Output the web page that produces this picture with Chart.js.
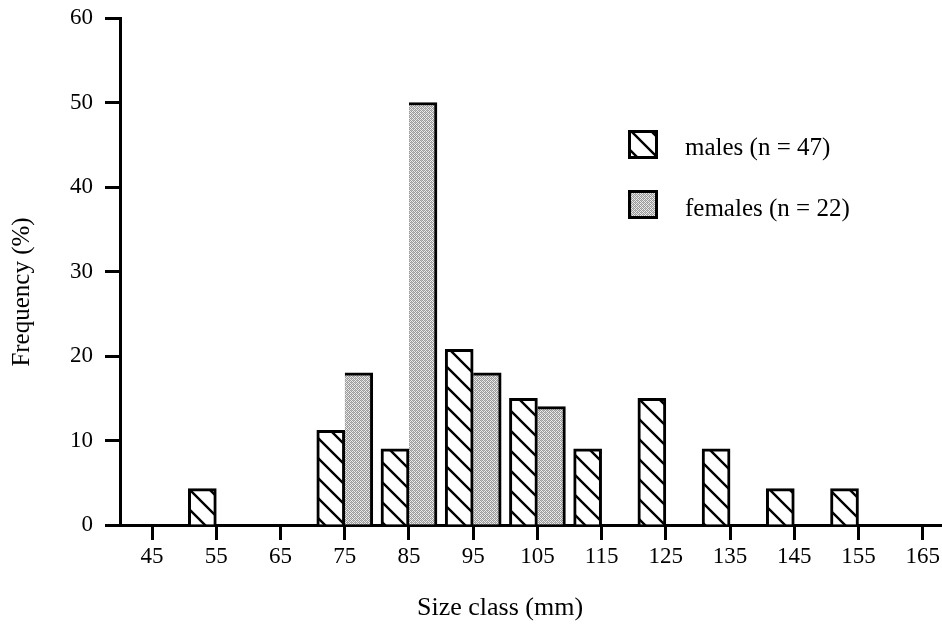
<!DOCTYPE html>
<html>
<head>
<meta charset="utf-8">
<script src="https://cdn.jsdelivr.net/npm/chart.js@4.4.1/dist/chart.umd.min.js"></script>
<style>
  html, body { margin: 0; padding: 0; background: #fff; overflow: hidden; }
  #wrap { width: 942px; height: 632px; position: relative; }
</style>
</head>
<body>
<div id="wrap"><canvas id="chart" width="942" height="632"></canvas></div>
<script>
// Size classes (mm) shown on the x axis
const sizeClasses = [45, 55, 65, 75, 85, 95, 105, 115, 125, 135, 145, 155, 165];
// Frequency (%) per size class; null = no individuals in that class
const malesPct   = [null, 4.3, null, 11.2, 9, 20.8, 15, 9, 15, 9, 4.3, 4.3, null];
const femalesPct = [null, null, null, 18, 50, 18, 14, null, null, null, null, null, null];
const yTicks = [0, 10, 20, 30, 40, 50, 60];
const seriesLabels = ['males (n = 47)', 'females (n = 22)'];
const axisTitles = { x: 'Size class (mm)', y: 'Frequency (%)' };

const SERIF = "'Liberation Serif', 'Times New Roman', serif";

// Diagonal hatching for males
function makeHatch() {
  const c = document.createElement('canvas');
  c.width = 20; c.height = 20;
  const g = c.getContext('2d');
  g.fillStyle = '#fff';
  g.fillRect(0, 0, 20, 20);
  g.strokeStyle = '#000';
  g.lineWidth = 2.4;
  g.beginPath();
  g.moveTo(-5, -5); g.lineTo(25, 25);
  g.moveTo(-5, 15); g.lineTo(5, 25);
  g.moveTo(15, -5); g.lineTo(25, 5);
  g.stroke();
  return g.createPattern(c, 'repeat');
}

// Fine grey stipple for females
function makeStipple() {
  const c = document.createElement('canvas');
  c.width = 4; c.height = 4;
  const g = c.getContext('2d');
  g.fillStyle = '#ececec';
  g.fillRect(0, 0, 4, 4);
  g.fillStyle = '#9a9a9a';
  [[0,0],[2,0],[1,1],[3,1],[0,2],[2,2],[1,3],[3,3]].forEach(([x, y]) => g.fillRect(x, y, 1, 1));
  g.fillStyle = '#bdbdbd';
  g.fillRect(1, 0, 1, 1); g.fillRect(3, 2, 1, 1);
  return g.createPattern(c, 'repeat');
}

const hatch = makeHatch();
const stipple = makeStipple();

const toPoints = arr => sizeClasses.map((x, i) => ({ x, y: arr[i] }));

// Legend and axis titles drawn on top of the plot
const overlay = {
  id: 'overlay',
  afterDraw(chart) {
    const { ctx, chartArea } = chart;
    ctx.save();
    // legend
    const fills = [hatch, stipple];
    const rows = [{ box: 130, base: 155 }, { box: 190, base: 216 }];
    rows.forEach((r, i) => {
      ctx.fillStyle = '#000';
      ctx.fillRect(628, r.box, 30, 29);
      ctx.fillStyle = fills[i];
      ctx.fillRect(631, r.box + 3, 24, 23);
      ctx.fillStyle = '#000';
      ctx.font = '25px ' + SERIF;
      ctx.textAlign = 'left';
      ctx.textBaseline = 'alphabetic';
      ctx.fillText(seriesLabels[i], 685, r.base);
    });
    // x-axis title
    ctx.font = '26px ' + SERIF;
    ctx.textAlign = 'center';
    ctx.textBaseline = 'alphabetic';
    ctx.fillText(axisTitles.x, chartArea.left + 380, 615);
    // y-axis title
    ctx.translate(22.5, 292);
    ctx.rotate(-Math.PI / 2);
    ctx.font = '25px ' + SERIF;
    ctx.textBaseline = 'middle';
    ctx.fillText(axisTitles.y, 0, 0);
    ctx.restore();
  }
};

new Chart(document.getElementById('chart'), {
  type: 'bar',
  data: {
    datasets: [
      {
        label: seriesLabels[0],
        data: toPoints(malesPct),
        backgroundColor: hatch,
        borderColor: '#000',
        borderWidth: { top: 3, left: 3, right: 3, bottom: 0 },
        borderSkipped: false
      },
      {
        label: seriesLabels[1],
        data: toPoints(femalesPct),
        backgroundColor: stipple,
        borderColor: '#000',
        borderWidth: { top: 3, left: 0, right: 3, bottom: 0 },
        borderSkipped: false
      }
    ]
  },
  options: {
    responsive: false,
    animation: false,
    events: [],
    layout: { padding: { top: 18, right: 0, left: 0, bottom: 0 } },
    datasets: { bar: { barThickness: 28, grouped: true } },
    plugins: { legend: { display: false }, tooltip: { enabled: false } },
    scales: {
      x: {
        type: 'linear',
        min: 40,
        max: 168,
        offset: false,
        afterBuildTicks: s => { s.ticks = sizeClasses.map(v => ({ value: v })); },
        afterFit: s => { s.height = 107; s.paddingLeft = 0; s.paddingRight = 0; },
        grid: { offset: false, drawOnChartArea: false, drawTicks: true, tickLength: 15, tickWidth: 3, tickColor: '#000' },
        border: { display: true, color: '#000', width: 3 },
        ticks: { color: '#000', padding: 3, maxRotation: 0, autoSkip: false, font: { family: SERIF, size: 23 } }
      },
      y: {
        min: 0,
        max: 60,
        afterBuildTicks: s => { s.ticks = yTicks.map(v => ({ value: v })); },
        afterFit: s => { s.width = 120; s.paddingTop = 0; s.paddingBottom = 0; },
        grid: { drawOnChartArea: false, drawTicks: true, tickLength: 15, tickWidth: 3, tickColor: '#000' },
        border: { display: true, color: '#000', width: 3 },
        ticks: { color: '#000', padding: 12, font: { family: SERIF, size: 23 } }
      }
    }
  },
  plugins: [overlay]
});
</script>
</body>
</html>
